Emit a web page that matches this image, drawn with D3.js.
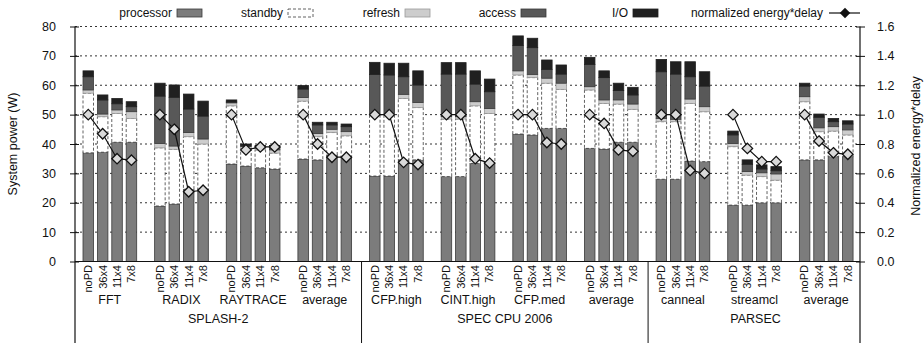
<!DOCTYPE html>
<html>
<head>
<meta charset="utf-8">
<script src="https://cdn.jsdelivr.net/npm/d3@7"></script>
<style>
  body { margin: 0; background: #fff; }
  svg { display: block; font-family: "Liberation Sans", Arial, sans-serif; }
</style>
</head>
<body>
<div id="chart"></div>
<script>
const width = 924;
const height = 343;

// benchmark groups, in drawing order
const groups = ["FFT", "RADIX", "RAYTRACE", "average", "CFP.high", "CINT.high", "CFP.med", "average", "canneal", "streamcl", "average"];
const suites = ["SPLASH-2", "SPEC CPU 2006", "PARSEC"];
const suiteSizes = [4, 4, 3];
const configs = ["noPD", "36x4", "11x4", "7x8"];

// power components (W), one row per group, one value per config
const processor = [
  [37.0, 37.2, 40.6, 40.6], [18.9, 19.6, 24.6, 24.6], [33.2, 32.5, 31.9, 31.5], [34.9, 34.6, 36.3, 35.7],
  [29.1, 29.1, 34.6, 34.6], [28.9, 28.9, 33.4, 33.4], [43.4, 43.1, 45.3, 45.3], [38.5, 38.3, 40.6, 40.6],
  [28.0, 28.0, 34.2, 34.0], [19.2, 19.2, 20.0, 20.0], [34.6, 34.6, 35.7, 35.7],
];
const standby = [
  [20.3, 12.1, 9.8, 8.1], [19.8, 18.6, 17.9, 15.4], [19.8, 6.0, 6.1, 5.4], [19.7, 7.9, 7.6, 7.1],
  [20.7, 20.7, 20.9, 17.8], [19.6, 19.6, 19.6, 17.0], [20.1, 19.5, 15.4, 13.3], [19.9, 15.5, 13.0, 11.2],
  [19.6, 19.6, 19.6, 17.0], [19.9, 10.2, 8.9, 7.7], [19.8, 9.6, 8.7, 7.4],
];
const refresh = [
  [1.1, 0.9, 1.2, 2.3], [1.5, 1.1, 1.4, 1.7], [1.0, 0.6, 0.7, 1.1], [1.2, 1.1, 1.1, 1.4],
  [0.6, 0.6, 1.4, 1.7], [0.8, 0.8, 1.4, 1.7], [1.4, 1.1, 1.7, 2.1], [1.1, 1.2, 1.4, 1.8],
  [1.1, 0.8, 1.5, 1.7], [1.1, 1.2, 1.3, 2.1], [1.7, 1.3, 1.5, 1.7],
];
const access = [
  [4.5, 4.8, 2.1, 1.7], [16.1, 16.6, 8.0, 7.8], [0.3, 0.3, 0.3, 0.9], [2.9, 2.9, 1.5, 1.7],
  [13.3, 13.1, 6.0, 6.0], [14.5, 14.5, 6.0, 5.7], [8.6, 9.1, 3.0, 3.1], [7.6, 7.6, 3.2, 3.1],
  [15.9, 15.4, 7.6, 7.0], [2.9, 2.5, 1.3, 1.1], [3.6, 3.6, 1.7, 2.0],
];
const io = [
  [2.0, 1.7, 1.8, 1.7], [4.4, 4.2, 5.1, 5.1], [0.7, 0.6, 0.5, 0.6], [1.2, 0.9, 0.9, 0.9],
  [4.1, 4.0, 4.6, 4.8], [3.9, 3.9, 4.5, 4.3], [3.3, 3.2, 3.2, 3.1], [2.4, 2.3, 2.5, 2.6],
  [4.2, 4.2, 5.1, 4.9], [1.3, 1.5, 1.4, 1.4], [1.0, 1.1, 1.1, 1.1],
];
// normalized energy*delay (right axis)
const energyDelay = [
  [1.0, 0.87, 0.70, 0.69], [1.0, 0.90, 0.475, 0.485], [1.0, 0.76, 0.78, 0.78], [1.0, 0.80, 0.71, 0.71],
  [1.0, 1.0, 0.675, 0.66], [1.0, 1.0, 0.70, 0.67], [1.0, 1.0, 0.81, 0.80], [1.0, 0.94, 0.76, 0.75],
  [1.0, 1.0, 0.62, 0.60], [1.0, 0.77, 0.68, 0.68], [1.0, 0.82, 0.74, 0.73],
];
const powerTicks = [0, 10, 20, 30, 40, 50, 60, 70, 80];
const edTicks = [0, 0.2, 0.4, 0.6, 0.8, 1.0, 1.2, 1.4, 1.6];

const components = [
  { key: "processor", label: "processor", values: processor, fill: "#7c7c7c", stroke: "#3a3a3a", dash: null },
  { key: "standby", label: "standby", values: standby, fill: "#ffffff", stroke: "#3a3a3a", dash: "3,2" },
  { key: "refresh", label: "refresh", values: refresh, fill: "#cdcdcd", stroke: "#9a9a9a", dash: null },
  { key: "access", label: "access", values: access, fill: "#585858", stroke: "#3a3a3a", dash: null },
  { key: "io", label: "I/O", values: io, fill: "#202020", stroke: "#202020", dash: null },
];

const plot = { left: 75, right: 860, top: 26.5, bottom: 261.5 };

const svg = d3.select("#chart").append("svg")
  .attr("width", width)
  .attr("height", height);

const x0 = d3.scaleBand()
  .domain(d3.range(groups.length))
  .range([plot.left, 863]);

const x1 = d3.scaleBand()
  .domain(configs)
  .range([8, 61.7])
  .paddingInner(0.27);

const y = d3.scaleLinear().domain([0, 80]).range([plot.bottom, plot.top]);
const y2 = d3.scaleLinear().domain([0, 1.6]).range([plot.bottom, plot.top]);

// dotted grid
svg.append("g")
  .selectAll("line")
  .data(powerTicks.filter((d) => d > 0))
  .join("line")
  .attr("x1", plot.left)
  .attr("x2", plot.right)
  .attr("y1", (d) => y(d))
  .attr("y2", (d) => y(d))
  .attr("stroke", "#333")
  .attr("stroke-width", 1)
  .attr("stroke-dasharray", "2,3");

// stacked bars
const rows = [];
groups.forEach((g, gi) => {
  configs.forEach((c, ci) => {
    let base = 0;
    components.forEach((comp) => {
      const v = comp.values[gi][ci];
      rows.push({ gi, config: c, comp, y0: base, y1: base + v });
      base += v;
    });
  });
});

svg.append("g")
  .selectAll("rect")
  .data(rows)
  .join("rect")
  .attr("x", (d) => x0(d.gi) + x1(d.config))
  .attr("width", x1.bandwidth())
  .attr("y", (d) => y(d.y1))
  .attr("height", (d) => y(d.y0) - y(d.y1))
  .attr("fill", (d) => d.comp.fill)
  .attr("stroke", (d) => d.comp.stroke)
  .attr("stroke-width", 0.8)
  .attr("stroke-dasharray", (d) => d.comp.dash);

// energy*delay lines, one per group
const diamond = d3.symbol().type(d3.symbolDiamond2).size(70);
const line = d3.line()
  .x((d, i) => x1(configs[i]) + x1.bandwidth() / 2)
  .y((d) => y2(d));

const edGroups = svg.append("g")
  .selectAll("g")
  .data(energyDelay)
  .join("g")
  .attr("transform", (d, i) => `translate(${x0(i)},0)`);

edGroups.append("path")
  .attr("d", (d) => line(d))
  .attr("fill", "none")
  .attr("stroke", "#111")
  .attr("stroke-width", 1.2);

edGroups.selectAll("path.mark")
  .data((d) => d)
  .join("path")
  .attr("class", "mark")
  .attr("d", diamond)
  .attr("transform", (d, i) => `translate(${x1(configs[i]) + x1.bandwidth() / 2},${y2(d)})`)
  .attr("fill", "#d9d9d9")
  .attr("stroke", "#111")
  .attr("stroke-width", 1.3);

// axes
svg.append("g")
  .attr("transform", `translate(${plot.left},0)`)
  .call(d3.axisLeft(y).tickValues(powerTicks).tickSize(5).tickPadding(14));
svg.append("g")
  .attr("transform", `translate(${plot.left},0)`)
  .call(d3.axisRight(y).tickValues(powerTicks).tickSize(4).tickFormat(""));

svg.append("g")
  .attr("transform", `translate(${plot.right},0)`)
  .call(d3.axisRight(y2).tickValues(edTicks).tickFormat(d3.format(".1f")).tickSize(5).tickPadding(12));
svg.append("g")
  .attr("transform", `translate(${plot.right},0)`)
  .call(d3.axisLeft(y2).tickValues(edTicks).tickSize(4).tickFormat(""));

svg.selectAll(".domain").remove();
svg.selectAll(".tick line").attr("stroke", "#111");
svg.selectAll(".tick text")
  .attr("font-size", 12.5)
  .attr("fill", "#111")
  .attr("font-family", "'Liberation Sans', Arial, sans-serif");

// frame lines
const frame = svg.append("g").attr("stroke", "#111").attr("stroke-width", 1.2);
frame.append("line").attr("x1", plot.left).attr("x2", plot.left).attr("y1", plot.top).attr("y2", height);
frame.append("line").attr("x1", plot.right).attr("x2", plot.right).attr("y1", plot.top).attr("y2", height);
frame.append("line").attr("x1", plot.left).attr("x2", plot.right).attr("y1", plot.bottom).attr("y2", plot.bottom);

// suite dividers
let acc = 0;
suiteSizes.slice(0, -1).forEach((n) => {
  acc += n;
  frame.append("line")
    .attr("x1", x0(acc)).attr("x2", x0(acc))
    .attr("y1", plot.bottom).attr("y2", height)
    .attr("stroke-width", 1);
});

// config labels
const labels = svg.append("g").attr("fill", "#111");
groups.forEach((g, gi) => {
  configs.forEach((c) => {
    const cx = x0(gi) + x1(c) + x1.bandwidth() / 2;
    labels.append("text")
      .attr("transform", `translate(${cx},265) rotate(-90)`)
      .attr("text-anchor", "end")
      .attr("dy", "0.35em")
      .attr("font-size", 11)
      .text(c);
  });
  labels.append("text")
    .attr("x", x0(gi) + x0.bandwidth() / 2 - 1)
    .attr("y", 304)
    .attr("text-anchor", "middle")
    .attr("font-size", 12.5)
    .text(g);
});

let start = 0;
suites.forEach((s, si) => {
  const end = start + suiteSizes[si];
  const cx = (x0(start) + x0(end - 1) + x0.bandwidth()) / 2;
  labels.append("text")
    .attr("x", cx)
    .attr("y", 323)
    .attr("text-anchor", "middle")
    .attr("font-size", 12.5)
    .text(s);
  start = end;
});

// axis titles
svg.append("text")
  .attr("transform", `translate(17,${(plot.top + plot.bottom) / 2}) rotate(-90)`)
  .attr("text-anchor", "middle")
  .attr("font-size", 12.5)
  .attr("fill", "#111")
  .text("System power (W)");

svg.append("text")
  .attr("transform", `translate(920,${(plot.top + plot.bottom) / 2 + 2}) rotate(-90)`)
  .attr("text-anchor", "middle")
  .attr("font-size", 12.5)
  .attr("fill", "#111")
  .text("Normalized energy*delay");

// legend: text sits just left of each swatch
const legendBox = [177, 288, 405, 521, 633];
const legend = svg.append("g").attr("font-size", 12).attr("fill", "#111");
components.forEach((comp, i) => {
  legend.append("text")
    .attr("x", legendBox[i] - 5)
    .attr("y", 17)
    .attr("text-anchor", "end")
    .text(comp.label);
  legend.append("rect")
    .attr("x", legendBox[i])
    .attr("y", 9)
    .attr("width", 25)
    .attr("height", 8)
    .attr("fill", comp.fill)
    .attr("stroke", comp.stroke)
    .attr("stroke-width", 0.8)
    .attr("stroke-dasharray", comp.dash);
});
legend.append("text")
  .attr("x", 823)
  .attr("y", 17)
  .attr("text-anchor", "end")
  .text("normalized energy*delay");
legend.append("line")
  .attr("x1", 829).attr("x2", 860).attr("y1", 13).attr("y2", 13)
  .attr("stroke", "#111").attr("stroke-width", 1.2);
legend.append("path")
  .attr("d", diamond)
  .attr("transform", "translate(845,13)")
  .attr("fill", "#111");
</script>
</body>
</html>
